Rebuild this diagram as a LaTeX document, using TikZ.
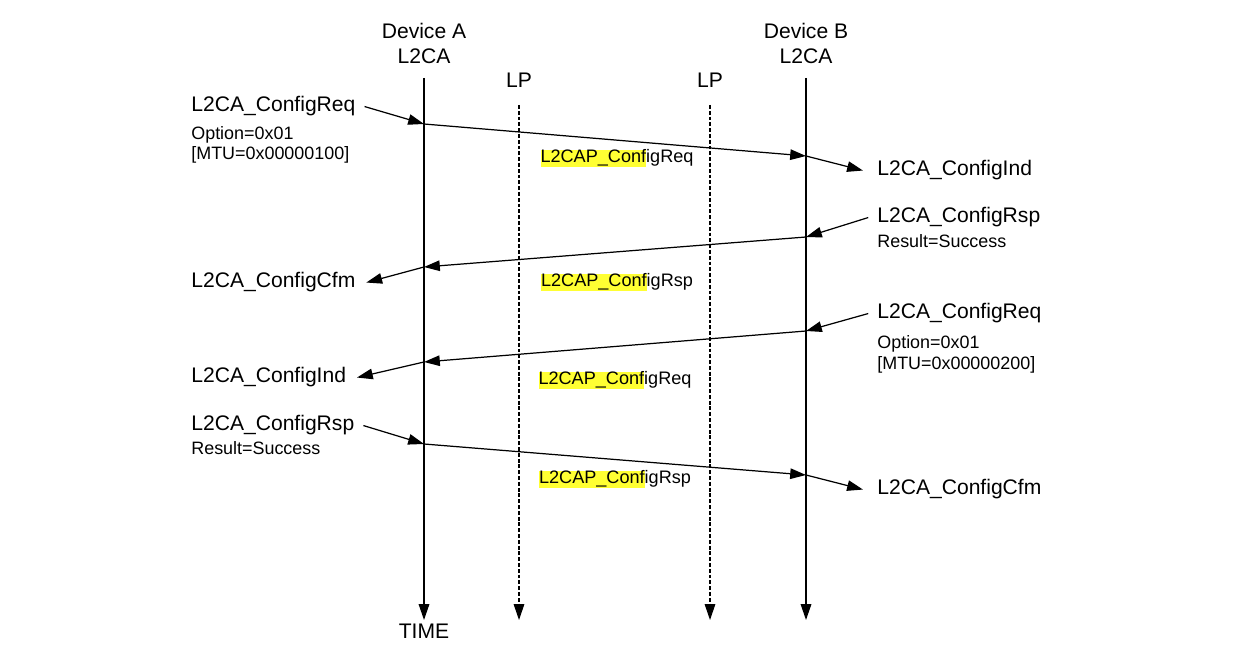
\documentclass[tikz,border=0pt]{standalone}
\usepackage{fontspec}
\setmainfont{Liberation Sans}
\usetikzlibrary{arrows.meta}
\definecolor{hlyellow}{HTML}{FFFF33}
\newcommand{\hlt}[1]{{\setlength{\fboxsep}{0pt}\colorbox{hlyellow}{\rule[-2.3pt]{0pt}{9.8pt}#1}}}

\tikzset{
	big/.style={font=\fontsize{12}{14.2}\selectfont},
	small/.style={font=\fontsize{10.2}{12}\selectfont},
	pdu/.style={font=\fontsize{10.3}{12}\selectfont, anchor=base},
	life/.style={line width=0.8pt, -{Triangle[length=9pt,width=6pt]}},
	msg/.style={line width=0.7pt, -{Triangle[length=9pt,width=6pt]}},
}

\begin{document}
\begin{tikzpicture}[x=0.02cm, y=-0.02cm]
	\useasboundingbox (0,0) rectangle (1233,661);
	% entities
	\node[big, align=center] (devA) at (424,43) {Device A\\L2CA};
	\node[big, align=center] (devB) at (806,43) {Device B\\L2CA};
	\node[big, anchor=base] (lpA) at (519,88) {LP};
	\node[big, anchor=base] (lpB) at (710,88) {LP};
	\coordinate (topA) at (424,78);
	\coordinate (topB) at (806,78);
	\coordinate (endA) at (424,620);
	\coordinate (endB) at (806,620);
	\coordinate (toplpA) at (519,105);
	\coordinate (toplpB) at (710,105);
	\coordinate (endlpA) at (519,620);
	\coordinate (endlpB) at (710,620);
	\draw[life] (topA) -- (endA);
	\draw[life] (topB) -- (endB);
	\draw[life, line width=0.6pt, dash pattern=on 2.2pt off 1.1pt] (toplpA) -- (endlpA);
	\draw[life, line width=0.6pt, dash pattern=on 2.2pt off 1.1pt] (toplpB) -- (endlpB);
	\node[big, anchor=base] (time) at (424,638) {TIME};

	% points on the lifelines
	\coordinate (a1) at (424,124);
	\coordinate (b1) at (806,156);
	\coordinate (b2) at (806,237);
	\coordinate (a2) at (424,267);
	\coordinate (b3) at (806,331);
	\coordinate (a3) at (424,362);
	\coordinate (a4) at (424,444);
	\coordinate (b4) at (806,475);

	% left side
	\node[big, anchor=base west, inner xsep=0pt] (reqA) at (191,112) {L2CA\_ConfigReq};
	\node[small, anchor=base west, inner xsep=0pt] (optA) at (191,140) {Option=0x01};
	\node[small, anchor=base west, inner xsep=0pt] (mtuA) at (191,160) {[MTU=0x00000100]};
	\node[big, anchor=base west, inner xsep=0pt] (cfmA) at (191,288) {L2CA\_ConfigCfm};
	\node[big, anchor=base west, inner xsep=0pt] (indA) at (191,383) {L2CA\_ConfigInd};
	\node[big, anchor=base west, inner xsep=0pt] (rspA) at (191,431) {L2CA\_ConfigRsp};
	\node[small, anchor=base west, inner xsep=0pt] (resA) at (191,455) {Result=Success};

	% right side
	\node[big, anchor=base west, inner xsep=0pt] (indB) at (877,176) {L2CA\_ConfigInd};
	\node[big, anchor=base west, inner xsep=0pt] (rspB) at (877,223) {L2CA\_ConfigRsp};
	\node[small, anchor=base west, inner xsep=0pt] (resB) at (877,248) {Result=Success};
	\node[big, anchor=base west, inner xsep=0pt] (reqB) at (877,319) {L2CA\_ConfigReq};
	\node[small, anchor=base west, inner xsep=0pt] (optB) at (877,349) {Option=0x01};
	\node[small, anchor=base west, inner xsep=0pt] (mtuB) at (877,370) {[MTU=0x00000200]};
	\node[big, anchor=base west, inner xsep=0pt] (cfmB) at (877,495) {L2CA\_ConfigCfm};

	% PDUs
	\node[pdu] (pdu1) at (617,163) {\hlt{L2CAP\_Conf}igReq};
	\node[pdu] (pdu2) at (617,287) {\hlt{L2CAP\_Conf}igRsp};
	\node[pdu] (pdu3) at (615,385) {\hlt{L2CAP\_Conf}igReq};
	\node[pdu] (pdu4) at (615,484) {\hlt{L2CAP\_Conf}igRsp};

	% messages
	\draw[msg] ([xshift=5]reqA.east) -- (a1);
	\draw[msg] (a1) -- (b1);
	\draw[msg] (b1) -- ([xshift=-8]indB.west);
	\draw[msg] ([xshift=-5]rspB.west) -- (b2);
	\draw[msg] (b2) -- (a2);
	\draw[msg] (a2) -- ([xshift=6]cfmA.east);
	\draw[msg] ([xshift=-5]reqB.west) -- (b3);
	\draw[msg] (b3) -- (a3);
	\draw[msg] (a3) -- ([xshift=6]indA.east);
	\draw[msg] ([xshift=5]rspA.east) -- (a4);
	\draw[msg] (a4) -- (b4);
	\draw[msg] (b4) -- ([xshift=-8]cfmB.west);
\end{tikzpicture}
\end{document}
